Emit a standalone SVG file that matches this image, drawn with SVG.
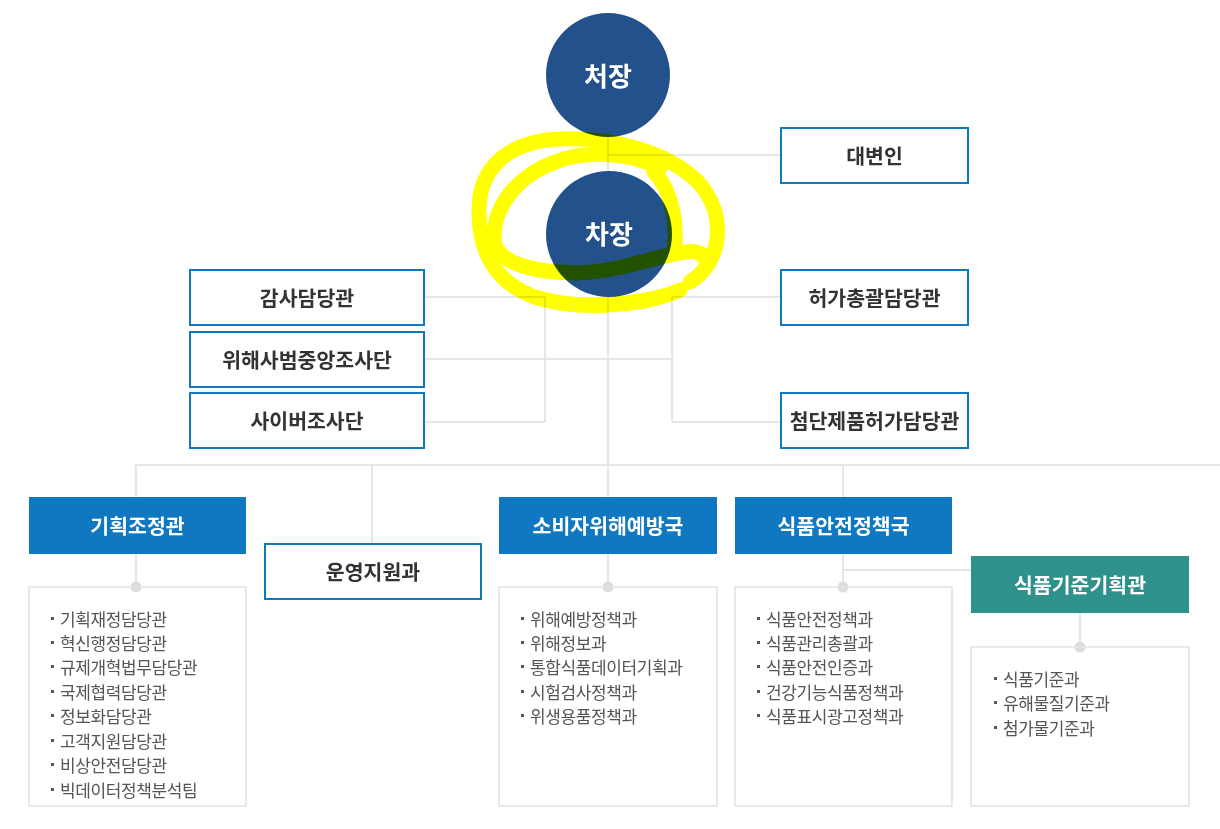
<svg xmlns="http://www.w3.org/2000/svg" width="1220" height="829" viewBox="0 0 1220 829">
<style>
.ln{stroke:#dedede;stroke-width:1.5;fill:none}
.dot{fill:#dddddd}
.ob{fill:#fff;stroke:#0f78c1;stroke-width:2}
.fb{fill:#0f78c1}
.tb{fill:#2e918b}
.lb{fill:none;stroke:#e2e2e2;stroke-width:1.5}
.circ{fill:#22518b}
text{font-family:"Noto Sans CJK KR","Noto Sans",sans-serif}
.t{font-size:20.5px;font-weight:700;fill:#333;text-anchor:middle;dominant-baseline:central;letter-spacing:0px}
.tw{font-size:20.5px;font-weight:700;fill:#fff;text-anchor:middle;dominant-baseline:central;letter-spacing:0px}
.tc{font-size:26px;font-weight:700;fill:#fff;text-anchor:middle;dominant-baseline:central;letter-spacing:0px}
.li{font-size:17px;font-weight:400;fill:#555;letter-spacing:-0.4px;dominant-baseline:central}
.bu{fill:#555}
</style>
<rect width="1220" height="829" fill="#fff"/>
<g id="connectors">
<line class="ln" x1="608" y1="100" x2="608" y2="587"/>
<line class="ln" x1="608" y1="155" x2="781" y2="155"/>
<line class="ln" x1="424" y1="297" x2="545" y2="297"/>
<line class="ln" x1="424" y1="422" x2="545" y2="422"/>
<line class="ln" x1="545" y1="297" x2="545" y2="422"/>
<line class="ln" x1="424" y1="359" x2="672" y2="359"/>
<line class="ln" x1="672" y1="297" x2="672" y2="422"/>
<line class="ln" x1="672" y1="297" x2="781" y2="297"/>
<line class="ln" x1="672" y1="422" x2="781" y2="422"/>
<line class="ln" x1="136" y1="465" x2="1220" y2="465"/>
<line class="ln" x1="136" y1="465" x2="136" y2="587"/>
<line class="ln" x1="372" y1="465" x2="372" y2="544"/>
<line class="ln" x1="843" y1="465" x2="843" y2="587"/>
<line class="ln" x1="843" y1="570" x2="971" y2="570"/>
<line class="ln" x1="1080" y1="612" x2="1080" y2="647"/>
<circle class="dot" cx="136" cy="587" r="5.5"/>
<circle class="dot" cx="608" cy="587" r="5.5"/>
<circle class="dot" cx="843" cy="587" r="5.5"/>
<circle class="dot" cx="1080" cy="647" r="5.5"/>
</g>
<g id="n-cheojang"><circle class="circ" cx="608" cy="75" r="62"/><text class="tc" x="608" y="74">처장</text></g>
<g id="n-chajang"><circle class="circ" cx="609" cy="234" r="63"/><text class="tc" x="609" y="232">차장</text></g>
<g id="n-daebyeonin"><rect class="ob" x="781" y="128" width="187" height="55"/><text class="t" x="874.5" y="155">대변인</text></g>
<g id="n-gamsa"><rect class="ob" x="190" y="270" width="234" height="55"/><text class="t" x="307" y="297">감사담당관</text></g>
<g id="n-wihaesabeom"><rect class="ob" x="190" y="332" width="234" height="55"/><text class="t" x="307" y="359">위해사범중앙조사단</text></g>
<g id="n-cyber"><rect class="ob" x="190" y="393" width="234" height="55"/><text class="t" x="307" y="420">사이버조사단</text></g>
<g id="n-heoga"><rect class="ob" x="781" y="270" width="187" height="55"/><text class="t" x="874.5" y="297">허가총괄담당관</text></g>
<g id="n-cheomdan"><rect class="ob" x="781" y="393" width="187" height="55"/><text class="t" x="874.5" y="420">첨단제품허가담당관</text></g>
<g id="n-gihoek"><rect class="fb" x="29" y="497" width="217" height="57"/><text class="tw" x="137.5" y="525">기획조정관</text></g>
<g id="n-unyeong"><rect class="ob" x="265" y="544" width="216" height="55"/><text class="t" x="373" y="571">운영지원과</text></g>
<g id="n-sobija"><rect class="fb" x="499" y="497" width="218" height="57"/><text class="tw" x="608" y="525">소비자위해예방국</text></g>
<g id="n-sikpum"><rect class="fb" x="735" y="497" width="217" height="57"/><text class="tw" x="843.5" y="525">식품안전정책국</text></g>
<g id="n-gijun"><rect class="tb" x="971" y="556" width="218" height="57"/><text class="tw" x="1080" y="584">식품기준기획관</text></g>
<g id="list-gihoek">
<rect class="lb" x="29" y="587" width="217" height="219"/>
<rect class="bu" x="51" y="617" width="3" height="3"/><text class="li" x="60" y="618">기획재정담당관</text>
<rect class="bu" x="51" y="641" width="3" height="3"/><text class="li" x="60" y="642">혁신행정담당관</text>
<rect class="bu" x="51" y="665" width="3" height="3"/><text class="li" x="60" y="666">규제개혁법무담당관</text>
<rect class="bu" x="51" y="690" width="3" height="3"/><text class="li" x="60" y="691">국제협력담당관</text>
<rect class="bu" x="51" y="714" width="3" height="3"/><text class="li" x="60" y="715">정보화담당관</text>
<rect class="bu" x="51" y="739" width="3" height="3"/><text class="li" x="60" y="740">고객지원담당관</text>
<rect class="bu" x="51" y="763" width="3" height="3"/><text class="li" x="60" y="764">비상안전담당관</text>
<rect class="bu" x="51" y="788" width="3" height="3"/><text class="li" x="60" y="789">빅데이터정책분석팀</text>
</g>
<g id="list-sobija">
<rect class="lb" x="499" y="587" width="218" height="219"/>
<rect class="bu" x="521" y="617" width="3" height="3"/><text class="li" x="530" y="618">위해예방정책과</text>
<rect class="bu" x="521" y="641" width="3" height="3"/><text class="li" x="530" y="642">위해정보과</text>
<rect class="bu" x="521" y="665" width="3" height="3"/><text class="li" x="530" y="666">통합식품데이터기획과</text>
<rect class="bu" x="521" y="690" width="3" height="3"/><text class="li" x="530" y="691">시험검사정책과</text>
<rect class="bu" x="521" y="714" width="3" height="3"/><text class="li" x="530" y="715">위생용품정책과</text>
</g>
<g id="list-sikpum">
<rect class="lb" x="735" y="587" width="217" height="219"/>
<rect class="bu" x="757" y="617" width="3" height="3"/><text class="li" x="766" y="618">식품안전정책과</text>
<rect class="bu" x="757" y="641" width="3" height="3"/><text class="li" x="766" y="642">식품관리총괄과</text>
<rect class="bu" x="757" y="665" width="3" height="3"/><text class="li" x="766" y="666">식품안전인증과</text>
<rect class="bu" x="757" y="690" width="3" height="3"/><text class="li" x="766" y="691">건강기능식품정책과</text>
<rect class="bu" x="757" y="714" width="3" height="3"/><text class="li" x="766" y="715">식품표시광고정책과</text>
</g>
<g id="list-gijun">
<rect class="lb" x="971" y="647" width="218" height="159"/>
<rect class="bu" x="994" y="677" width="3" height="3"/><text class="li" x="1003" y="678">식품기준과</text>
<rect class="bu" x="994" y="701" width="3" height="3"/><text class="li" x="1003" y="702">유해물질기준과</text>
<rect class="bu" x="994" y="726" width="3" height="3"/><text class="li" x="1003" y="727">첨가물기준과</text>
</g>
<g id="highlight" style="mix-blend-mode:multiply" fill="none" stroke="#ffff00" stroke-width="15" stroke-linecap="round" stroke-linejoin="round">
<path d="M 690 282 C 722 262 728 215 698 182 C 668 152 612 137 560 139 C 508 141 480 168 479 208 C 478 252 496 283 535 297 C 575 310 640 308 680 290"/>
<path d="M 660 168 C 630 152 585 150 555 162 C 515 177 493 208 494 240 C 496 262 530 272 575 273 C 620 272 655 256 685 252 C 700 250 708 256 706 266"/>
<path d="M 654 172 C 672 190 678 225 674 250"/>
<path d="M 545 300 C 580 306 630 304 665 294" stroke-width="12"/>
</g>
</svg>
